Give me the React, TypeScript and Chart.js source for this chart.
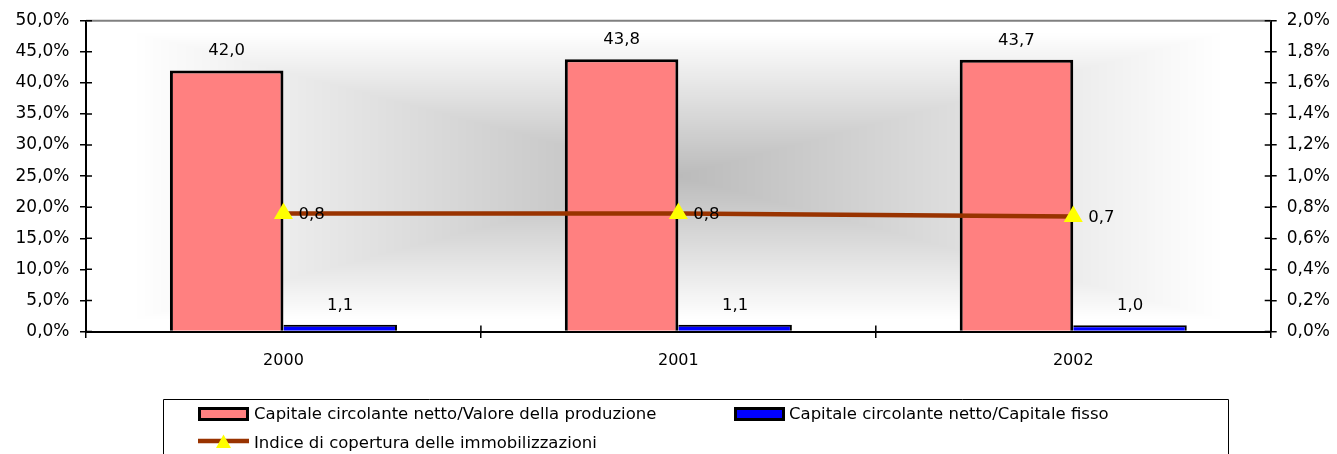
import React, { useEffect, useRef } from 'react';
import { Chart, registerables } from 'chart.js';

Chart.register(...registerables);

// ---- data ----
const categories = ['2000', '2001', '2002'];
const circolanteProduzione = [42.0, 43.8, 43.7];
const circolanteFisso = [1.1, 1.1, 1.0];
const indiceCopertura = [0.76, 0.76, 0.74];
const seriesNames = [
  'Capitale circolante netto/Valore della produzione',
  'Capitale circolante netto/Capitale fisso',
  'Indice di copertura delle immobilizzazioni',
];
const leftAxis = { min: 0, max: 50, step: 5 };
const rightAxis = { min: 0, max: 2, step: 0.2 };

const FONT = '"DejaVu Sans", Verdana, sans-serif';
const RED = '#FF8080';
const BLUE = '#0000FF';
const BROWN = '#993300';
const YELLOW = '#FFFF00';

const fmt = (v: number) => v.toFixed(1).replace('.', ',');

const W = 1337;
const H = 454;

const bgPlugin = {
  id: 'bgGradient',
  beforeDraw(chart: any) {
    const { ctx, chartArea: a } = chart;
    const w = Math.round(a.right - a.left);
    const h = Math.round(a.bottom - a.top);
    const off = document.createElement('canvas');
    off.width = w;
    off.height = h;
    const octx = off.getContext('2d')!;
    const img = octx.createImageData(w, h);
    const cx = w / 2;
    const cy = h / 2;
    for (let y = 0; y < h; y++) {
      for (let x = 0; x < w; x++) {
        const t = Math.max(Math.abs(x + 0.5 - cx) / cx, Math.abs(y + 0.5 - cy) / cy);
        const v = Math.round(187 + 68 * Math.min(1, t / 0.92));
        const i = (y * w + x) * 4;
        img.data[i] = v;
        img.data[i + 1] = v;
        img.data[i + 2] = v;
        img.data[i + 3] = 255;
      }
    }
    octx.putImageData(img, 0, 0);
    ctx.save();
    ctx.drawImage(off, a.left, a.top);
    ctx.restore();
  },
  afterDraw(chart: any) {
    const { ctx, chartArea: a, scales } = chart;
    ctx.save();
    // top frame line
    ctx.strokeStyle = '#808080';
    ctx.lineWidth = 2;
    ctx.beginPath();
    ctx.moveTo(a.left, a.top);
    ctx.lineTo(a.right, a.top);
    ctx.stroke();
    // inward tick marks
    ctx.strokeStyle = '#000';
    ctx.lineWidth = 1.5;
    ctx.beginPath();
    scales.y.ticks.forEach((_: any, i: number) => {
      const p = scales.y.getPixelForTick(i);
      ctx.moveTo(a.left, p);
      ctx.lineTo(a.left + 6, p);
    });
    scales.y1.ticks.forEach((_: any, i: number) => {
      const p = scales.y1.getPixelForTick(i);
      ctx.moveTo(a.right - 6, p);
      ctx.lineTo(a.right, p);
    });
    const step = (a.right - a.left) / categories.length;
    for (let i = 1; i < categories.length; i++) {
      const p = a.left + step * i;
      ctx.moveTo(p, a.bottom - 6);
      ctx.lineTo(p, a.bottom);
    }
    ctx.stroke();

    // legend
    const boxL = 163;
    const boxR = 1228;
    const boxT = 399.5;
    ctx.strokeStyle = '#000';
    ctx.lineWidth = 1;
    ctx.beginPath();
    ctx.moveTo(boxL + 0.5, H + 2);
    ctx.lineTo(boxL + 0.5, boxT);
    ctx.lineTo(boxR + 0.5, boxT);
    ctx.lineTo(boxR + 0.5, H + 2);
    ctx.stroke();

    ctx.font = `16.5px ${FONT}`;
    ctx.fillStyle = '#000';
    ctx.textAlign = 'left';
    ctx.textBaseline = 'alphabetic';

    const drawBoxMarker = (x: number, y: number, color: string) => {
      ctx.fillStyle = '#000';
      ctx.fillRect(x, y, 51, 14);
      ctx.fillStyle = color;
      ctx.fillRect(x + 3, y + 3, 45, 8);
    };
    drawBoxMarker(198, 407, RED);
    drawBoxMarker(734, 407, BLUE);
    ctx.fillStyle = '#000';
    ctx.fillText(seriesNames[0], 254, 419);
    ctx.fillText(seriesNames[1], 789, 419);

    // line marker
    ctx.strokeStyle = BROWN;
    ctx.lineWidth = 4.5;
    ctx.beginPath();
    ctx.moveTo(198, 441);
    ctx.lineTo(249, 441);
    ctx.stroke();
    ctx.fillStyle = YELLOW;
    ctx.beginPath();
    ctx.moveTo(223.5, 434.5);
    ctx.lineTo(231, 448);
    ctx.lineTo(216, 448);
    ctx.closePath();
    ctx.fill();
    ctx.fillStyle = '#000';
    ctx.fillText(seriesNames[2], 254, 448);
    ctx.restore();
  },
};

const valueLabelsPlugin = {
  id: 'valueLabels',
  afterDatasetsDraw(chart: any) {
    const ctx = chart.ctx;
    ctx.save();
    ctx.font = `16.5px ${FONT}`;
    ctx.fillStyle = '#000';
    ctx.textBaseline = 'alphabetic';
    chart.data.datasets.forEach((ds: any, i: number) => {
      const meta = chart.getDatasetMeta(i);
      meta.data.forEach((el: any, j: number) => {
        const v = ds.data[j] as number;
        if (meta.type === 'bar') {
          ctx.textAlign = 'center';
          ctx.fillText(fmt(v), el.x, el.y - 15);
        } else {
          ctx.textAlign = 'left';
          ctx.fillText(fmt(v), el.x + 15, el.y + 5.5);
        }
      });
    });
    ctx.restore();
  },
};

export default function App() {
  const ref = useRef<HTMLCanvasElement>(null);

  useEffect(() => {
    document.body.style.margin = '0';
    const canvas = ref.current!;
    const chart = new Chart(canvas, {
      data: {
        labels: categories,
        datasets: [
          {
            type: 'line',
            label: seriesNames[2],
            data: indiceCopertura,
            yAxisID: 'y1',
            borderColor: BROWN,
            borderWidth: 4.5,
            tension: 0,
            pointStyle: 'triangle',
            pointRadius: 11,
            pointBackgroundColor: YELLOW,
            pointBorderColor: YELLOW,
            pointBorderWidth: 0,
            order: 0,
          } as any,
          {
            type: 'bar',
            label: seriesNames[0],
            data: circolanteProduzione,
            yAxisID: 'y',
            backgroundColor: RED,
            borderColor: '#000',
            borderWidth: 3,
            categoryPercentage: 0.575,
            barPercentage: 1,
            order: 1,
          } as any,
          {
            type: 'bar',
            label: seriesNames[1],
            data: circolanteFisso,
            yAxisID: 'y',
            backgroundColor: BLUE,
            borderColor: '#000',
            borderWidth: { top: 2, right: 2, left: 0, bottom: 0 },
            categoryPercentage: 0.575,
            barPercentage: 1,
            order: 1,
          } as any,
        ],
      },
      options: {
        responsive: false,
        animation: false,
        devicePixelRatio: 1,
        layout: { padding: { top: 20.5, left: 0, right: 0, bottom: 0 } },
        plugins: {
          legend: { display: false },
          tooltip: { enabled: false },
        },
        scales: {
          x: {
            type: 'category',
            offset: true,
            grid: {
              display: true,
              offset: true,
              drawOnChartArea: false,
              drawTicks: true,
              tickLength: 6.5,
              color: '#000',
              lineWidth: 1.5,
            },
            border: { display: true, color: '#000', width: 2 },
            ticks: {
              color: '#000',
              font: { family: FONT, size: 16 },
              padding: 13,
              maxRotation: 0,
            },
            afterFit: (s: any) => {
              s.height = H - 331.5;
            },
          },
          y: {
            type: 'linear',
            position: 'left',
            min: leftAxis.min,
            max: leftAxis.max,
            grid: {
              display: true,
              drawOnChartArea: false,
              drawTicks: true,
              tickLength: 6,
              color: '#000',
              lineWidth: 1.5,
            },
            border: { display: true, color: '#000', width: 2 },
            ticks: {
              stepSize: leftAxis.step,
              color: '#000',
              font: { family: FONT, size: 17 },
              padding: 10.5,
              callback: (v: any) => fmt(Number(v)) + '%',
            },
            afterFit: (s: any) => {
              s.width = 86;
            },
          },
          y1: {
            type: 'linear',
            position: 'right',
            min: rightAxis.min,
            max: rightAxis.max,
            grid: {
              display: true,
              drawOnChartArea: false,
              drawTicks: true,
              tickLength: 6,
              color: '#000',
              lineWidth: 1.5,
            },
            border: { display: true, color: '#000', width: 2 },
            ticks: {
              stepSize: rightAxis.step,
              color: '#000',
              font: { family: FONT, size: 17 },
              padding: 10,
              callback: (v: any) => fmt(Number(v)) + '%',
            },
            afterFit: (s: any) => {
              s.width = W - 1270.7;
            },
          },
        },
      } as any,
      plugins: [bgPlugin, valueLabelsPlugin],
    });
    return () => chart.destroy();
  }, []);

  return (
    <div style={{ position: 'absolute', left: 0, top: 0, width: W, height: H, background: '#fff' }}>
      <canvas ref={ref} width={W} height={H} style={{ width: W, height: H, display: 'block' }} />
    </div>
  );
}
